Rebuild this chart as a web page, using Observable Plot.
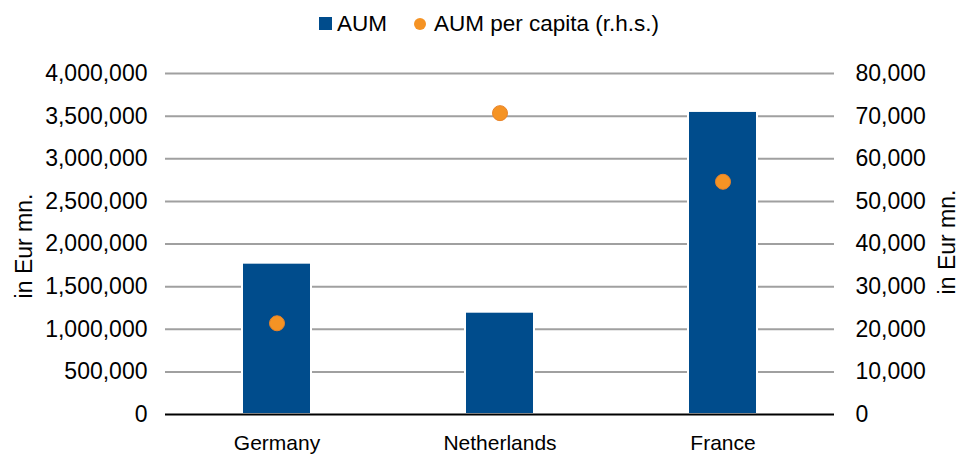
<!DOCTYPE html>
<html>
<head>
<meta charset="utf-8">
<script src="https://cdn.jsdelivr.net/npm/d3@7"></script>
<script src="https://cdn.jsdelivr.net/npm/@observablehq/plot@0.6"></script>
<style>
  html, body { margin: 0; padding: 0; background: #fff; }
  body { width: 970px; height: 457px; overflow: hidden; font-family: "Liberation Sans", Arial, sans-serif; }
  #legend { height: 47px; display: flex; align-items: center; justify-content: center; padding-left: 8px; box-sizing: border-box; font-size: 22.5px; color: #000; }
  #legend .item { display: flex; align-items: center; }
  #legend .sq { width: 13px; height: 13px; background: #004C8C; margin-right: 5px; }
  #legend .dot { width: 12px; height: 12px; border-radius: 50%; background: #F59324; margin-right: 8px; }
  #chart svg { display: block; }
</style>
</head>
<body>
<div id="legend"></div>
<div id="chart"></div>
<script>
const countries = ["Germany", "Netherlands", "France"];
const aum = [1775000, 1200000, 3555000];
const aumPerCapita = [21400, 70700, 54600];
const leftTicks = [0, 500000, 1000000, 1500000, 2000000, 2500000, 3000000, 3500000, 4000000];
const rightTicks = [0, 10000, 20000, 30000, 40000, 50000, 60000, 70000, 80000];
const seriesNames = ["AUM", "AUM per capita (r.h.s.)"];
const axisTitle = "in Eur mn.";

const barColor = "#004C8C";
const dotColor = "#F59324";
const ratio = leftTicks[leftTicks.length - 1] / rightTicks[rightTicks.length - 1];
const fmt = d3.format(",");

const rows = countries.map((c, i) => ({country: c, aum: aum[i], pc: aumPerCapita[i], pcScaled: aumPerCapita[i] * ratio}));

// legend
const legend = document.getElementById("legend");
legend.innerHTML = `
  <span class="item"><span class="sq"></span>${seriesNames[0]}</span>
  <span class="item" style="margin-left:27px"><span class="dot"></span>${seriesNames[1]}</span>`;

const chart = Plot.plot({
  width: 970,
  height: 410,
  marginTop: 26,
  marginBottom: 43,
  marginLeft: 165,
  marginRight: 136,
  style: {fontFamily: "'Liberation Sans', Arial, sans-serif", fontSize: "23px", color: "#000", background: "#fff"},
  x: {domain: countries, paddingInner: 0.69, paddingOuter: 0.345, align: 0.5, label: null},
  y: {domain: [0, leftTicks[leftTicks.length - 1]], label: null},
  marks: [
    Plot.ruleY(leftTicks.slice(1), {stroke: "#A0A0A0", strokeWidth: 2}),
    Plot.barY(rows, {x: "country", y: "aum", fill: barColor, stroke: "#ffffff", strokeWidth: 2}),
    Plot.ruleY([0], {stroke: "#000", strokeWidth: 2}),
    Plot.dot(rows, {x: "country", y: "pcScaled", r: 7.5, fill: dotColor, stroke: "#E9842A", strokeWidth: 1}),
    Plot.axisY(leftTicks, {anchor: "left", tickSize: 0, tickPadding: 18, tickFormat: d => fmt(d), label: null}),
    Plot.axisY(rightTicks.map(d => d * ratio), {anchor: "right", tickSize: 0, tickPadding: 21, tickFormat: d => fmt(Math.round(d / ratio)), label: null}),
    Plot.axisX({tickSize: 0, tickPadding: 21, fontSize: 21, label: null}),
    Plot.text([axisTitle], {frameAnchor: "left", dx: -141, dy: 2, rotate: -90, textAnchor: "middle", fontSize: 23, fill: "#000"}),
    Plot.text([axisTitle], {frameAnchor: "right", dx: 113, dy: -2, rotate: -90, textAnchor: "middle", fontSize: 23, fill: "#000"})
  ]
});
document.getElementById("chart").appendChild(chart);
</script>
</body>
</html>
